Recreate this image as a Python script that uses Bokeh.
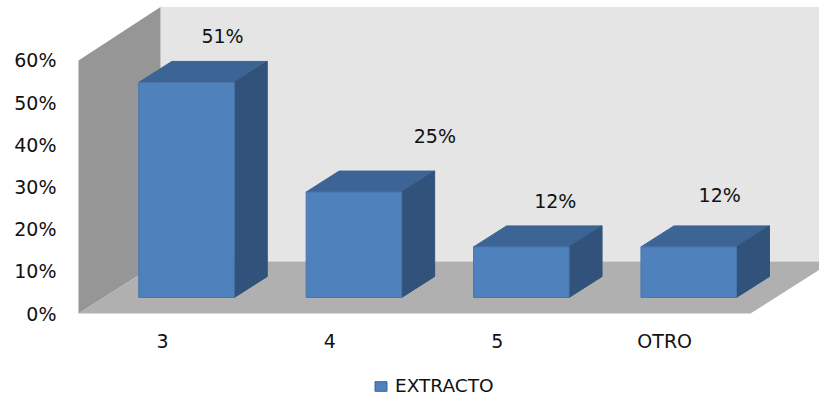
from bokeh.embed import file_html
from bokeh.layouts import column
from bokeh.models import ColumnDataSource, FixedTicker, Legend, LegendItem, LinearAxis, Range1d
from bokeh.core.properties import value
from bokeh.plotting import figure
from bokeh.resources import INLINE

# Survey shares per category, in percent
categories = ["3", "4", "5", "OTRO"]
shares = [51, 25, 12, 12]
share_labels = ["51%", "25%", "12%", "12%"]
percent_ticks = [0, 10, 20, 30, 40, 50, 60]
series_name = "EXTRACTO"

FONT = "DejaVu Sans"
FONT_SIZE = "19px"
BAR_FILL = "#4f81bd"
BAR_EDGE = "#4a76ad"

# Oblique projection: depth is a sideways and upward shift, in data units
PX_X, PX_Y = 167.4, 4.217
LEFT, BOTTOM = 62, 30
WALL_DX, WALL_DY = 82 / PX_X, 52 / PX_Y
WALL_TOP_DY = 53.5 / PX_Y
BAR_DX, BAR_DY = 33 / PX_X, 21 / PX_Y
BASE_DX, BASE_Y = 24 / PX_X, 16 / PX_Y
BAR_W = 95.5 / PX_X
WALL_X = (78 - 162) / PX_X      # front-left corner of the floor
FLOOR_END = (750 - 162) / PX_X  # front-right corner of the floor
TOP = 60

p = figure(width=819, height=355, output_backend="svg", toolbar_location=None,
           x_axis_type=None, y_axis_type=None,
           min_border_left=LEFT, min_border_right=0, min_border_top=0, min_border_bottom=BOTTOM,
           x_range=Range1d((LEFT - 162) / PX_X, (819 - 162) / PX_X),
           y_range=Range1d((313 - 325) / PX_Y, 313 / PX_Y))
p.outline_line_color = None
p.grid.visible = False
p.background_fill_color = "white"

# Back wall, side wall and floor
p.patch([WALL_X + WALL_DX, FLOOR_END + WALL_DX, FLOOR_END + WALL_DX, WALL_X + WALL_DX],
        [WALL_DY, WALL_DY, TOP + WALL_TOP_DY, TOP + WALL_TOP_DY], fill_color="#e5e5e5", line_color=None)
p.patch([WALL_X, WALL_X + WALL_DX, WALL_X + WALL_DX, WALL_X],
        [0, WALL_DY, TOP + WALL_TOP_DY, TOP], fill_color="#969696", line_color=None)
p.patch([WALL_X, WALL_X + WALL_DX, FLOOR_END + WALL_DX, FLOOR_END],
        [0, WALL_DY, WALL_DY, 0], fill_color="#b0b0b0", line_color=None)

# Bars: front, top and right faces
fx, fy, tx, ty, sx, sy = [], [], [], [], [], []
for i, v in enumerate(shares):
    l = i + BASE_DX - BAR_W / 2
    r = l + BAR_W
    b = BASE_Y
    t = BASE_Y + v
    fx.append([l, r, r, l]); fy.append([b, b, t, t])
    tx.append([l, r, r + BAR_DX, l + BAR_DX]); ty.append([t, t, t + BAR_DY, t + BAR_DY])
    sx.append([r, r + BAR_DX, r + BAR_DX, r]); sy.append([b, b + BAR_DY, t + BAR_DY, t])

p.patches(tx, ty, fill_color="#3c6494", line_color="#3c6494", line_width=1)
p.patches(sx, sy, fill_color="#31527b", line_color="#31527b", line_width=1)
p.patches(fx, fy, fill_color=BAR_FILL, line_color=BAR_EDGE, line_width=1)

# Value labels float above the bars with individual offsets
label_dx = [36, 81, 34, 31]
label_dy = [46, 56, 46, 52]
src = ColumnDataSource(dict(
    x=[i + BASE_DX + d / PX_X for i, d in enumerate(label_dx)],
    y=[BASE_Y + v + d / PX_Y for v, d in zip(shares, label_dy)],
    text=share_labels))
p.text("x", "y", text="text", source=src, text_align="center", text_baseline="middle",
       text_font=value(FONT), text_font_size=FONT_SIZE, text_color="#111111")

xaxis = LinearAxis(ticker=FixedTicker(ticks=list(range(len(categories)))),
                   major_label_overrides={i: c for i, c in enumerate(categories)},
                   axis_line_color=None, major_tick_line_color=None, minor_tick_line_color=None,
                   major_label_standoff=-2, major_label_text_font=FONT,
                   major_label_text_font_size=FONT_SIZE, major_label_text_color="#111111")
yaxis = LinearAxis(ticker=FixedTicker(ticks=percent_ticks),
                   major_label_overrides={v: f"{v}%" for v in percent_ticks},
                   axis_line_color=None, major_tick_line_color=None, minor_tick_line_color=None,
                   major_label_standoff=0, major_label_text_font=FONT,
                   major_label_text_font_size=FONT_SIZE, major_label_text_color="#111111")
p.add_layout(xaxis, "below")
p.add_layout(yaxis, "left")

# Legend strip under the chart, keyed by a bar in the same fill that lies outside the strip's range
strip = figure(width=819, height=41, output_backend="svg", toolbar_location=None,
               x_axis_type=None, y_axis_type=None, min_border=0,
               x_range=Range1d(0, 1), y_range=Range1d(0, 1))
strip.outline_line_color = None
strip.grid.visible = False
key = strip.vbar(x=[5], top=[1], width=1, fill_color=BAR_FILL, line_color="#3c6494")
legend = Legend(items=[LegendItem(label=series_name, renderers=[key])],
                location=(311, 0), orientation="horizontal", border_line_color=None,
                background_fill_alpha=0, glyph_width=15, glyph_height=12,
                label_text_font=FONT, label_text_font_size="18.5px", label_text_color="#111111",
                margin=0, padding=0, label_standoff=7)
strip.add_layout(legend, "center")

open("out.html", "w").write(file_html(column(p, strip, spacing=0), INLINE))
